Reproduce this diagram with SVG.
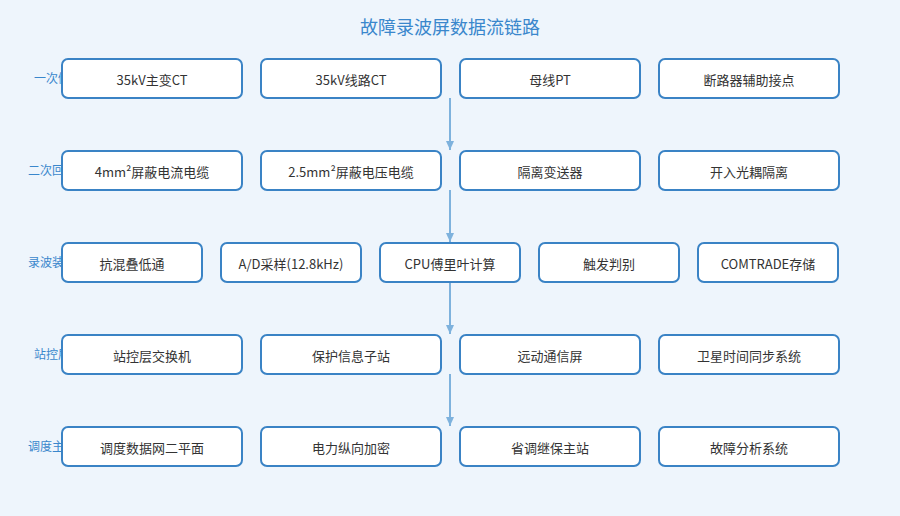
<svg xmlns="http://www.w3.org/2000/svg" width="900" height="516" viewBox="0 0 900 516">
<defs>
<marker id="ah" markerWidth="10" markerHeight="10" refX="9" refY="5" orient="auto" markerUnits="userSpaceOnUse"><path d="M0,1 L9,5 L0,9 Z" fill="#7EB2DD"/></marker>
<style>
.bg{fill:#EEF5FC}
.box{fill:#FFFFFF;stroke:#3A83C5;stroke-width:2}
.t{font-family:"Noto Sans CJK SC","Noto Sans",sans-serif;font-size:13px;fill:#333333;text-anchor:middle}
.lab{font-family:"Noto Sans CJK SC","Noto Sans",sans-serif;font-size:12px;fill:#3A87CC;text-anchor:middle}
.title{font-family:"Noto Sans CJK SC","Noto Sans",sans-serif;font-size:18px;fill:#3A87CC;text-anchor:middle}
.arr{stroke:#7EB2DD;stroke-width:2;fill:none}
</style>
</defs>
<rect class="bg" x="0" y="0" width="900" height="516"/>
<text class="title" x="450" y="34">故障录波屏数据流链路</text>
<g id="labels">
<text class="lab" x="52" y="83">一次侧</text>
<text class="lab" x="52" y="175">二次回路</text>
<text class="lab" x="52" y="267">录波装置</text>
<text class="lab" x="52" y="359">站控层</text>
<text class="lab" x="52" y="451">调度主站</text>
</g>
<g id="connectors">
<line class="arr" x1="450" y1="98" x2="450" y2="150" marker-end="url(#ah)"/>
<line class="arr" x1="450" y1="190" x2="450" y2="242" marker-end="url(#ah)"/>
<line class="arr" x1="450" y1="282" x2="450" y2="334" marker-end="url(#ah)"/>
<line class="arr" x1="450" y1="374" x2="450" y2="426" marker-end="url(#ah)"/>
</g>
<g id="n1"><rect class="box" x="62" y="59" width="180" height="39" rx="6"/><text class="t" x="152" y="85">35kV主变CT</text></g>
<g id="n2"><rect class="box" x="261" y="59" width="180" height="39" rx="6"/><text class="t" x="351" y="85">35kV线路CT</text></g>
<g id="n3"><rect class="box" x="460" y="59" width="180" height="39" rx="6"/><text class="t" x="550" y="85">母线PT</text></g>
<g id="n4"><rect class="box" x="659" y="59" width="180" height="39" rx="6"/><text class="t" x="749" y="85">断路器辅助接点</text></g>
<g id="n5"><rect class="box" x="62" y="151" width="180" height="39" rx="6"/><text class="t" x="152" y="177">4mm²屏蔽电流电缆</text></g>
<g id="n6"><rect class="box" x="261" y="151" width="180" height="39" rx="6"/><text class="t" x="351" y="177">2.5mm²屏蔽电压电缆</text></g>
<g id="n7"><rect class="box" x="460" y="151" width="180" height="39" rx="6"/><text class="t" x="550" y="177">隔离变送器</text></g>
<g id="n8"><rect class="box" x="659" y="151" width="180" height="39" rx="6"/><text class="t" x="749" y="177">开入光耦隔离</text></g>
<g id="n9"><rect class="box" x="62" y="243" width="140" height="39" rx="6"/><text class="t" x="132" y="269">抗混叠低通</text></g>
<g id="n10"><rect class="box" x="221" y="243" width="140" height="39" rx="6"/><text class="t" x="291" y="269">A/D采样(12.8kHz)</text></g>
<g id="n11"><rect class="box" x="380" y="243" width="140" height="39" rx="6"/><text class="t" x="450" y="269">CPU傅里叶计算</text></g>
<g id="n12"><rect class="box" x="539" y="243" width="140" height="39" rx="6"/><text class="t" x="609" y="269">触发判别</text></g>
<g id="n13"><rect class="box" x="698" y="243" width="140" height="39" rx="6"/><text class="t" x="768" y="269">COMTRADE存储</text></g>
<g id="n14"><rect class="box" x="62" y="335" width="180" height="39" rx="6"/><text class="t" x="152" y="361">站控层交换机</text></g>
<g id="n15"><rect class="box" x="261" y="335" width="180" height="39" rx="6"/><text class="t" x="351" y="361">保护信息子站</text></g>
<g id="n16"><rect class="box" x="460" y="335" width="180" height="39" rx="6"/><text class="t" x="550" y="361">远动通信屏</text></g>
<g id="n17"><rect class="box" x="659" y="335" width="180" height="39" rx="6"/><text class="t" x="749" y="361">卫星时间同步系统</text></g>
<g id="n18"><rect class="box" x="62" y="427" width="180" height="39" rx="6"/><text class="t" x="152" y="453">调度数据网二平面</text></g>
<g id="n19"><rect class="box" x="261" y="427" width="180" height="39" rx="6"/><text class="t" x="351" y="453">电力纵向加密</text></g>
<g id="n20"><rect class="box" x="460" y="427" width="180" height="39" rx="6"/><text class="t" x="550" y="453">省调继保主站</text></g>
<g id="n21"><rect class="box" x="659" y="427" width="180" height="39" rx="6"/><text class="t" x="749" y="453">故障分析系统</text></g>
</svg>
